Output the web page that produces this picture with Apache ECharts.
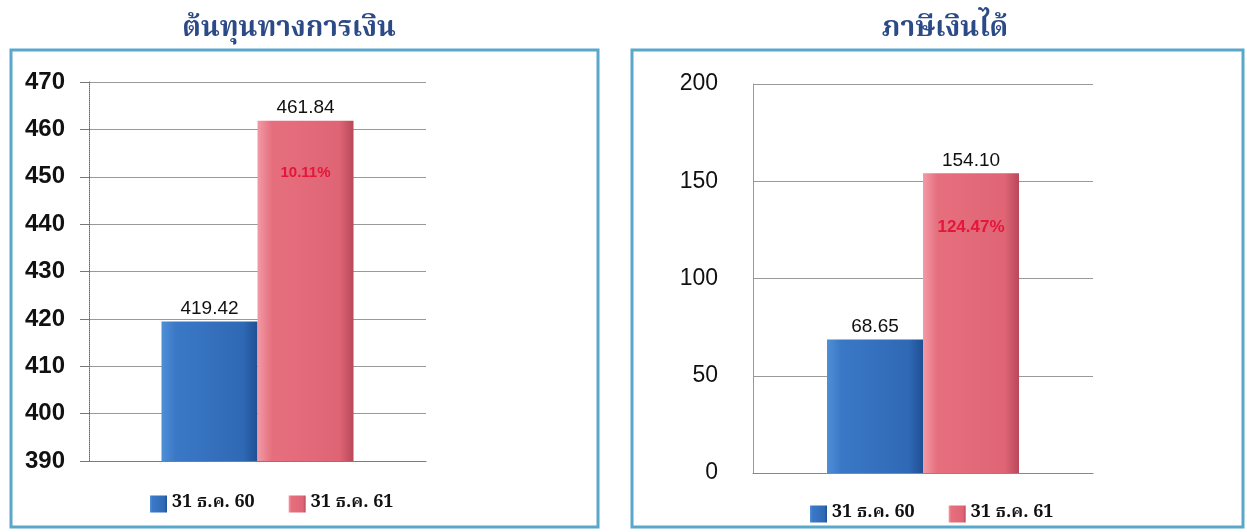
<!DOCTYPE html>
<html><head><meta charset="utf-8">
<script src="https://cdn.jsdelivr.net/npm/echarts@6/dist/echarts.min.js"></script>
<style>html,body{margin:0;padding:0;background:#fff}#c{width:1247px;height:532px}</style>
</head><body><div id="c"></div>
<script>
const titles = ['ต้นทุนทางการเงิน', 'ภาษีเงินได้'];
const seriesNames = ['31 ธ.ค. 60', '31 ธ.ค. 61'];
const financeCost = [419.42, 461.84];
const financeChange = '10.11%';
const incomeTax = [68.65, 154.10];
const taxChange = '124.47%';
const axis1 = {min: 390, max: 470, interval: 10};
const axis2 = {min: 0, max: 200, interval: 50};

const thaiFont = "'Noto Serif Thai','Noto Sans Thai','Tlwg Typo','Norasi','Garuda','Loma','DejaVu Serif',serif";
const blueGrad = new echarts.graphic.LinearGradient(0,0,1,0,[{offset:0,color:'#4f8fd6'},{offset:0.15,color:'#3a78c6'},{offset:0.85,color:'#2f69b5'},{offset:1,color:'#1f4f94'}]);
const redGrad = new echarts.graphic.LinearGradient(0,0,1,0,[{offset:0,color:'#f29aa6'},{offset:0.15,color:'#e66f7e'},{offset:0.85,color:'#df6575'},{offset:1,color:'#b9485a'}]);

function barSeries(idx, name, val, color, pct, pctSize, pctOffset) {
  const s = {
    type: 'bar', name: name, xAxisIndex: idx, yAxisIndex: idx,
    data: [val], barWidth: 96, barGap: '0%',
    itemStyle: {color: color},
    label: {show: true, position: 'top', distance: 3, color: '#111', fontFamily: 'Arial, Liberation Sans, sans-serif', fontSize: 19,
      formatter: p => p.value.toFixed(2)},
    emphasis: {disabled: true}
  };
  if (pct) {
    s.markPoint = {symbol: 'rect', symbolSize: 1, itemStyle: {color: 'rgba(0,0,0,0)'},
      data: [{type: 'max'}],
      label: {show: true, formatter: pct, color: '#e4163a', fontWeight: 'bold', fontSize: pctSize, fontFamily: 'Arial, sans-serif', offset: [0, pctOffset]}};
  }
  return s;
}

const chart = echarts.init(document.getElementById('c'));
chart.setOption({
  animation: false,
  graphic: [
    {type: 'rect', shape: {x: 11, y: 50, width: 587, height: 477}, style: {fill: 'none', stroke: '#5aa7cc', lineWidth: 3}},
    {type: 'rect', shape: {x: 632, y: 50, width: 611, height: 477}, style: {fill: 'none', stroke: '#5aa7cc', lineWidth: 3}}
  ],
  title: [
    {text: titles[0], left: 284, top: 12, textAlign: 'center', textStyle: {fontFamily: thaiFont, fontSize: 28, fontWeight: 'bold', color: '#2b4a86'}},
    {text: titles[1], left: 940, top: 12, textAlign: 'center', textStyle: {fontFamily: thaiFont, fontSize: 28, fontWeight: 'bold', color: '#2b4a86'}}
  ],
  legend: [
    {data: seriesNames, left: 145, top: 490, itemWidth: 17, itemHeight: 17, itemGap: 34, icon: 'rect',
      textStyle: {fontFamily: thaiFont, fontSize: 18, fontWeight: 'bold', color: '#111'}},
    {data: seriesNames, left: 805, top: 500, itemWidth: 17, itemHeight: 17, itemGap: 34, icon: 'rect',
      textStyle: {fontFamily: thaiFont, fontSize: 18, fontWeight: 'bold', color: '#111'}}
  ],
  grid: [
    {left: 89, right: 1247 - 426, top: 82, bottom: 532 - 461},
    {left: 753, right: 1247 - 1093, top: 84, bottom: 532 - 473}
  ],
  xAxis: [
    {type: 'category', gridIndex: 0, data: [''], axisLine: {show: true, lineStyle: {color: '#777', type: 'dotted'}}, axisTick: {show: false}, axisLabel: {show: false}},
    {type: 'category', gridIndex: 1, data: [''], axisLine: {show: true, lineStyle: {color: '#888'}}, axisTick: {show: false}, axisLabel: {show: false}}
  ],
  yAxis: [
    {type: 'value', gridIndex: 0, min: axis1.min, max: axis1.max, interval: axis1.interval,
      axisLine: {show: true, lineStyle: {color: '#666', type: 'dotted'}},
      axisTick: {show: true, length: 9, lineStyle: {color: '#777'}},
      splitLine: {lineStyle: {color: '#999', width: 1}},
      axisLabel: {color: '#111', fontSize: 24, fontWeight: 'bold', fontFamily: 'Arial, Liberation Sans, sans-serif', margin: 24}},
    {type: 'value', gridIndex: 1, min: axis2.min, max: axis2.max, interval: axis2.interval,
      axisLine: {show: true, lineStyle: {color: '#999'}},
      axisTick: {show: false},
      splitLine: {lineStyle: {color: '#999', width: 1}},
      axisLabel: {color: '#111', fontSize: 23, fontFamily: 'Arial, Liberation Sans, sans-serif', margin: 35}}
  ],
  series: [
    barSeries(0, seriesNames[0], financeCost[0], blueGrad, null),
    barSeries(0, seriesNames[1], financeCost[1], redGrad, financeChange, 15, 52),
    barSeries(1, seriesNames[0], incomeTax[0], blueGrad, null),
    barSeries(1, seriesNames[1], incomeTax[1], redGrad, taxChange, 17, 54)
  ]
});
</script></body></html>
